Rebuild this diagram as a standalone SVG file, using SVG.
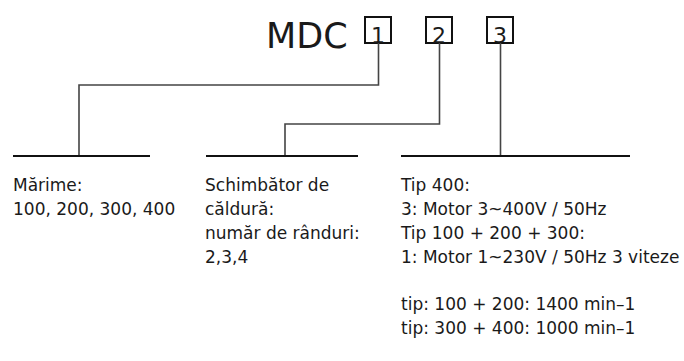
<svg xmlns="http://www.w3.org/2000/svg" width="684" height="361" viewBox="0 0 684 361">
<style>
text{font-family:"DejaVu Sans","Liberation Sans",sans-serif;fill:#1a1a1a}
.lbl{font-size:17px}
.title{font-size:35px}
.dig{font-size:22px;text-anchor:middle}
.box{fill:none;stroke:#111;stroke-width:2}
.conn{fill:none;stroke:#444;stroke-width:1.6}
.base{fill:none;stroke:#111;stroke-width:2}
</style>
<rect width="684" height="361" fill="#fff"/>
<g id="title"><text class="title" x="266" y="48">MDC</text></g>
<g id="box1"><rect class="box" x="365" y="17" width="26" height="26"/><text class="dig" x="378" y="43">1</text></g>
<g id="box2"><rect class="box" x="426" y="17" width="26" height="26"/><text class="dig" x="439" y="43">2</text></g>
<g id="box3"><rect class="box" x="487" y="17" width="26" height="26"/><text class="dig" x="500" y="43">3</text></g>
<g id="connectors">
<path class="conn" d="M378.5,43 V85 H79 V156"/>
<path class="conn" d="M439.5,43 V124 H285 V156"/>
<path class="conn" d="M500.5,43 V156"/>
<path class="base" d="M13,156 H150"/>
<path class="base" d="M206,156 H358"/>
<path class="base" d="M401,156 H630"/>
</g>
<g id="size">
<text class="lbl" x="13" y="191">Mărime:</text>
<text class="lbl" x="13" y="215">100, 200, 300, 400</text>
</g>
<g id="exchanger">
<text class="lbl" x="205" y="191">Schimbător de</text>
<text class="lbl" x="205" y="215">căldură:</text>
<text class="lbl" x="205" y="239">număr de rânduri:</text>
<text class="lbl" x="205" y="263">2,3,4</text>
</g>
<g id="motor">
<text class="lbl" x="401" y="191">Tip 400:</text>
<text class="lbl" x="401" y="215">3: Motor 3~400V / 50Hz</text>
<text class="lbl" x="401" y="239">Tip 100 + 200 + 300:</text>
<text class="lbl" x="401" y="263">1: Motor 1~230V / 50Hz 3 viteze</text>
<text class="lbl" x="401" y="310">tip: 100 + 200: 1400 min–1</text>
<text class="lbl" x="401" y="334">tip: 300 + 400: 1000 min–1</text>
</g>
</svg>
